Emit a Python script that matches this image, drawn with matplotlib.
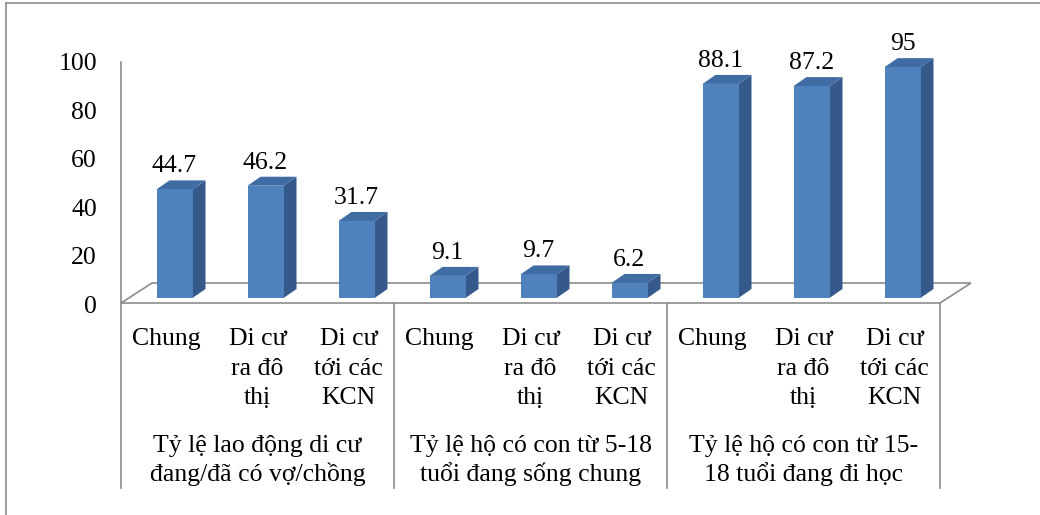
import matplotlib.pyplot as plt
from matplotlib.patches import Polygon
from matplotlib.lines import Line2D

group_labels = ["Tỷ lệ lao động di cư\nđang/đã có vợ/chồng",
                "Tỷ lệ hộ có con từ 5-18\ntuổi đang sống chung",
                "Tỷ lệ hộ có con từ 15-\n18 tuổi đang đi học"]
sub_labels = ["Chung", "Di cư\nra đô\nthị", "Di cư\ntới các\nKCN"]
values = [44.7, 46.2, 31.7, 9.1, 9.7, 6.2, 88.1, 87.2, 95]
value_labels = ["44.7", "46.2", "31.7", "9.1", "9.7", "6.2", "88.1", "87.2", "95"]
yticks = [0, 20, 40, 60, 80, 100]

plt.rcParams['font.family'] = ['Liberation Serif', 'DejaVu Serif']
FS = 18.5
GREY = '#8c8c8c'
FRONT = '#4f81bd'
SIDE = '#34598a'
TOP = '#3f6ca3'

# x: one unit per category slot (91 px), y: value units (2.43 px each)
SLOT = 91.0
UNIT = 2.43
def vy(ypix):
    # pixel row -> value units (bar base sits at pixel row 298)
    return (298 - ypix) / UNIT
def sx(xpix):
    return (xpix - 121) / SLOT - 0.5

fig = plt.figure(figsize=(10.4, 5.15), dpi=100)
ax = fig.add_axes([0, 0, 1, 1])
ax.set_xlim(sx(0), sx(1040))
ax.set_ylim(vy(515), vy(0))
ax.axis('off')

n = len(values)
front_y = vy(303)
fdx, fdy = 31 / SLOT, 20 / UNIT

# floor outline
floor = Polygon([(-0.5, front_y), (n - 0.5, front_y),
                 (n - 0.5 + fdx, front_y + fdy), (-0.5 + fdx, front_y + fdy)],
                closed=True, fill=False, edgecolor=GREY, lw=1.2, zorder=1)
ax.add_patch(floor)

# value axis line + category separators
ax.plot([-0.5, -0.5], [vy(62), vy(488)], color=GREY, lw=1.2, zorder=1)
for k in range(1, len(group_labels) + 1):
    xs = -0.5 + 3 * k
    ax.plot([xs, xs], [front_y, vy(488)], color=GREY, lw=1.2, zorder=1)

for t in yticks:
    ax.text(sx(97), t + vy(307), str(t), ha='right', va='center', fontsize=FS)

# bars
bw = 36 / SLOT
shift = 8 / SLOT
ddx, ddy = 13 / SLOT, 9 / UNIT
xc = [i + shift for i in range(n)]
ax.bar(xc, values, width=bw, color=FRONT, zorder=3)
for x, v, lab in zip(xc, values, value_labels):
    r = x + bw / 2
    l = x - bw / 2
    ax.add_patch(Polygon([(r, 0), (r + ddx, ddy), (r + ddx, v + ddy), (r, v)],
                         closed=True, facecolor=SIDE, edgecolor='none', zorder=2))
    ax.add_patch(Polygon([(l, v), (r, v), (r + ddx, v + ddy), (l + ddx, v + ddy)],
                         closed=True, facecolor=TOP, edgecolor='none', zorder=2))
    ax.text(x, v + ddy + 8 / UNIT, lab, ha='center', va='baseline', fontsize=FS)

# category labels
sub_rows = [345, 375, 404]
for i in range(n):
    for j, line in enumerate(sub_labels[i % 3].split("\n")):
        ax.text(i, vy(sub_rows[j]), line, ha='center', va='baseline', fontsize=FS)

grp_rows = [452, 481]
for g, lab in enumerate(group_labels):
    for j, line in enumerate(lab.split("\n")):
        ax.text(3 * g + 1, vy(grp_rows[j]), line, ha='center', va='baseline', fontsize=FS)

# outer frame (left and top edges visible)
fig.add_artist(Line2D([6 / 1040, 6 / 1040], [0, 1 - 3 / 515], color=GREY, lw=1.2))
fig.add_artist(Line2D([6 / 1040, 1], [1 - 3 / 515, 1 - 3 / 515], color=GREY, lw=1.2))

fig.savefig("out.png", dpi=100)
